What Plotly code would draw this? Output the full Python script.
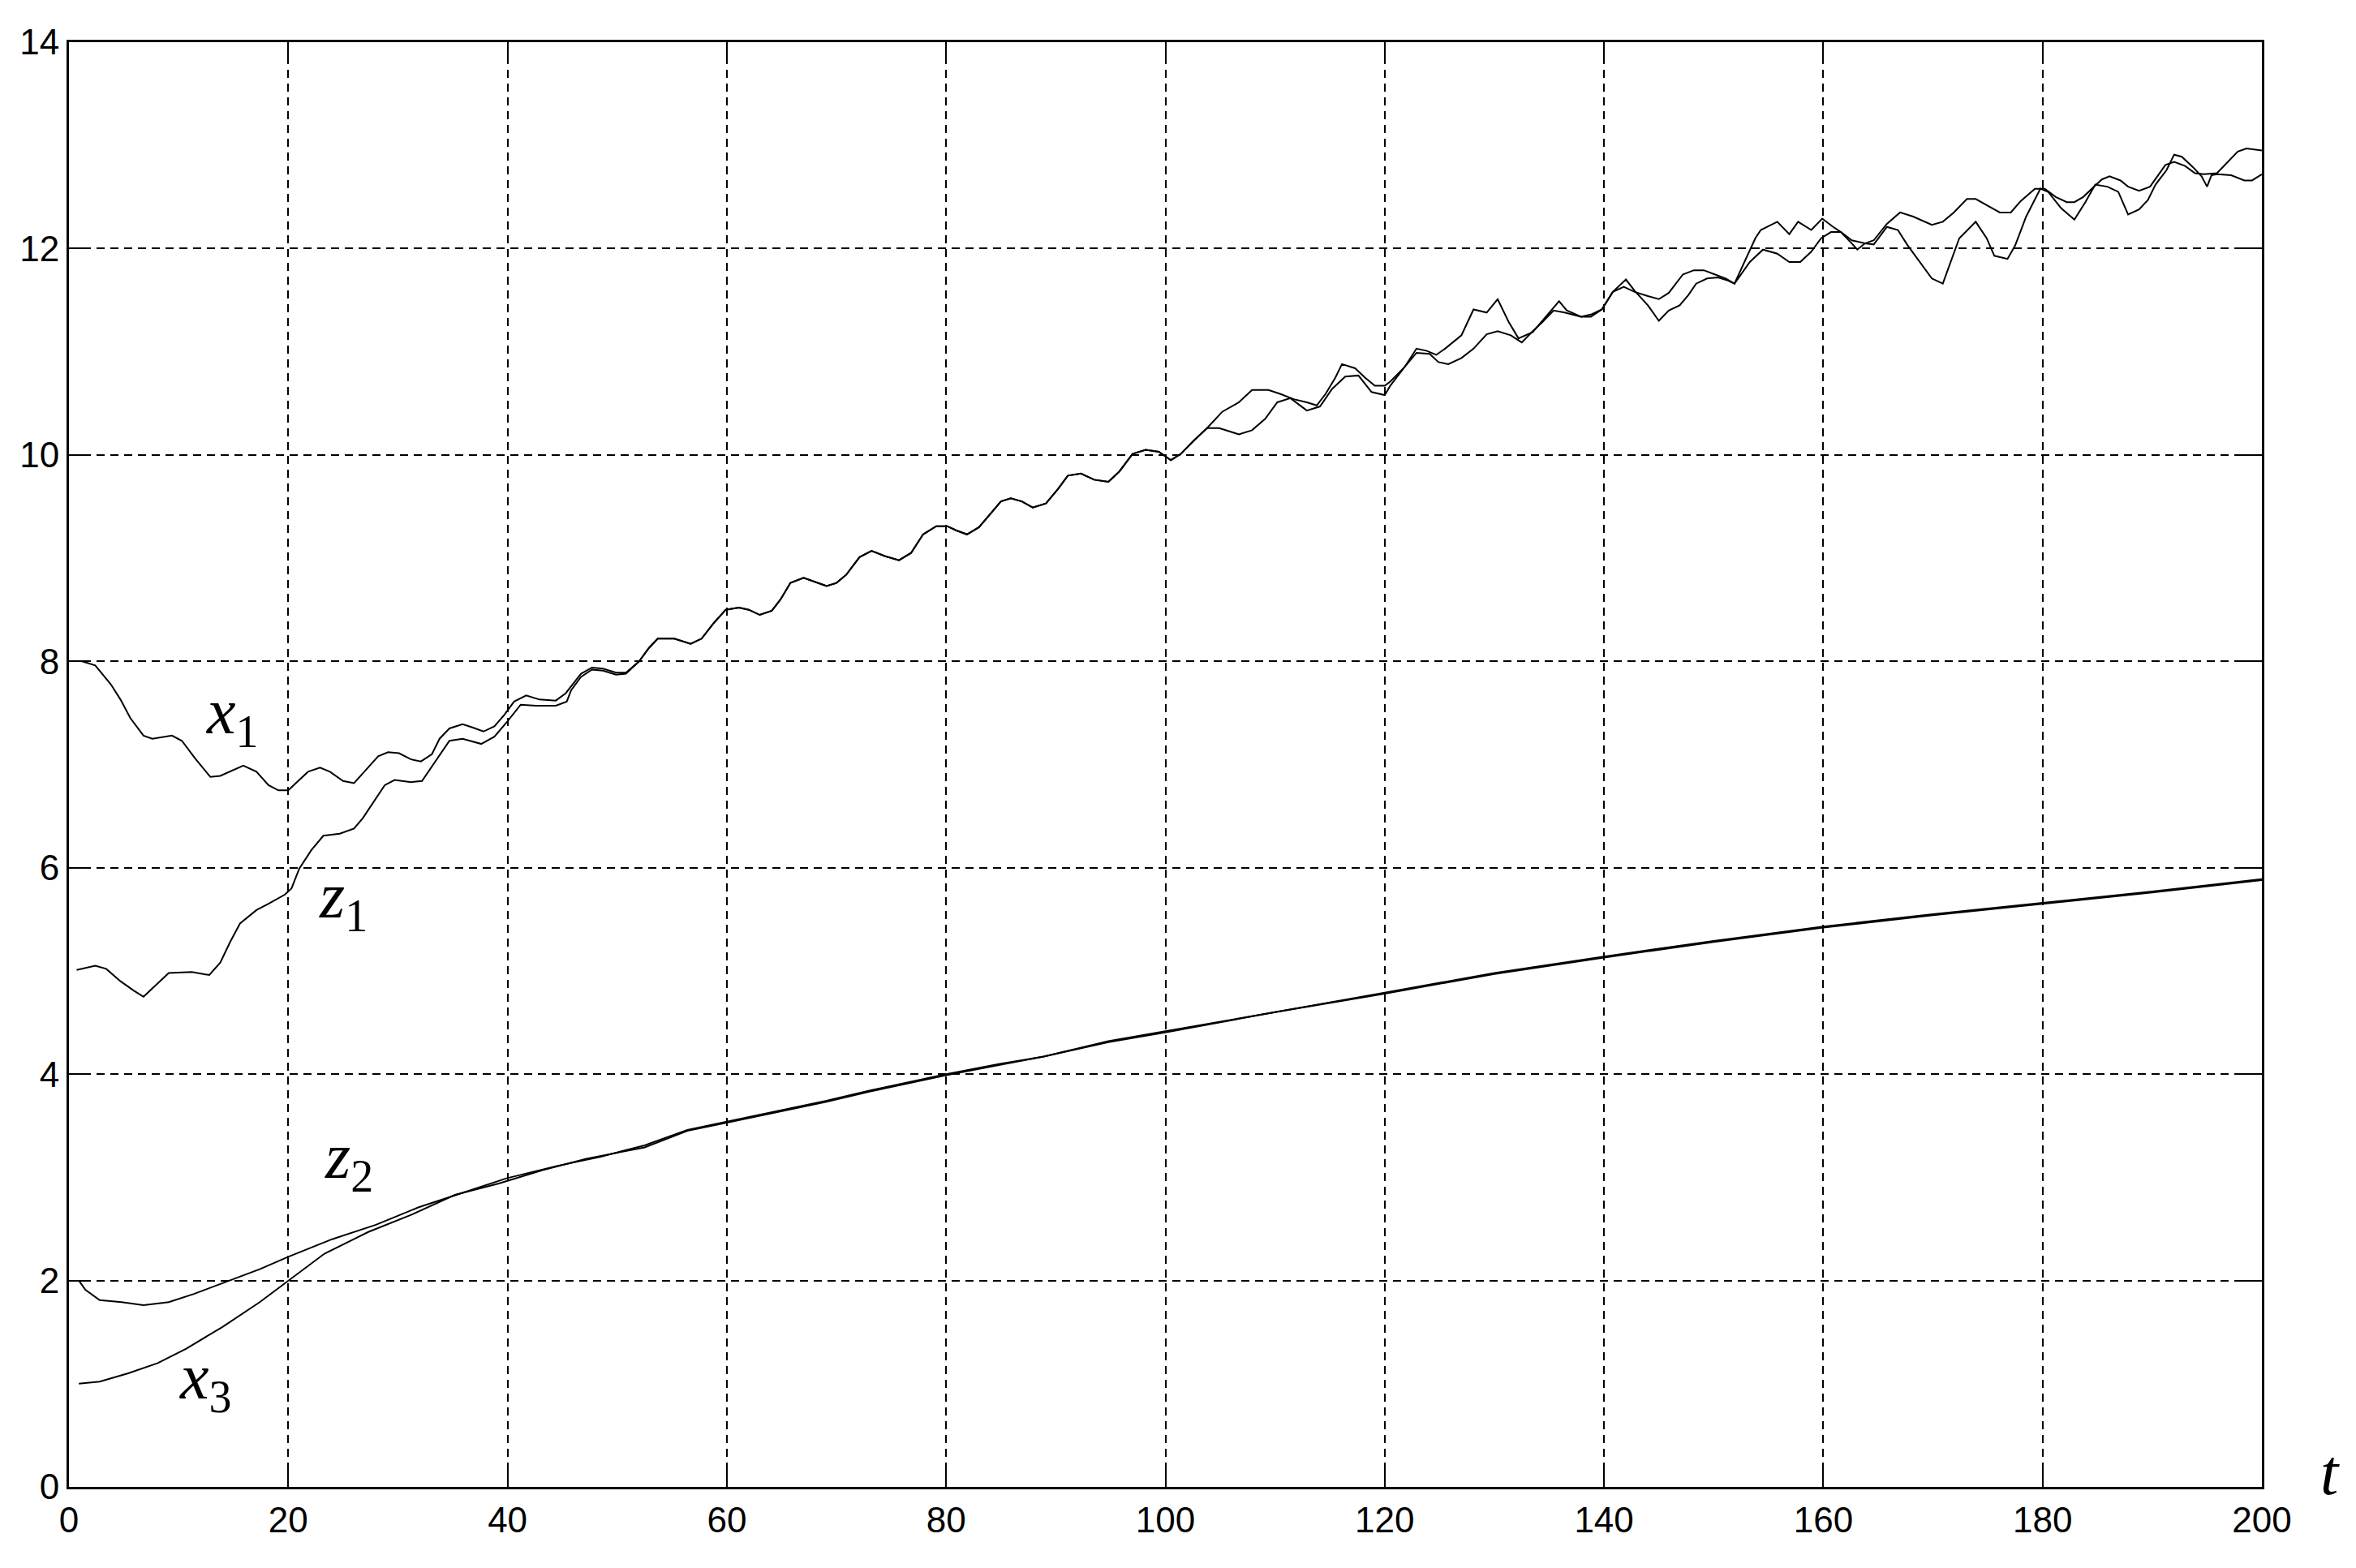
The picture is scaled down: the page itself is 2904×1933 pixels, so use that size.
import plotly.graph_objects as go

# upper pair (x1 true state, z1 estimate)
x1_t = [1.2, 2.4, 3.8, 4.7, 5.6, 6.8, 7.6, 9.4, 10.3, 11.5, 12.9, 13.8, 15.9, 17.1, 18.2, 19.1, 20.0,
        20.6, 21.8, 22.9, 23.8, 25.0, 26.0, 27.1, 28.2, 29.1, 30.1, 31.2, 32.1, 33.1, 33.8, 34.7, 35.9,
        36.8, 37.8, 38.8, 39.7, 40.6, 41.7, 42.9, 44.4, 45.3,
        45.8, 46.7, 47.7, 48.7, 49.9, 50.8, 52.0, 52.9, 53.7, 55.2, 56.7, 57.7, 58.8, 59.9, 61.1, 62.0,
        63.0, 64.1, 64.9, 65.8, 67.0, 68.1, 69.1, 70.0, 70.9, 72.1, 73.2, 74.4, 75.7, 76.8, 77.9, 79.1,
        80.1, 80.9, 81.9, 83.0, 83.8, 85.0, 85.9, 86.9, 87.9, 89.1, 90.2, 91.1, 92.3, 93.5, 94.8, 95.8,
        97.0, 98.2, 99.4, 100.0, 100.5, 101.4, 102.6, 103.8,
        104.9, 106.7, 107.9, 109.1, 110.2, 111.4, 112.9, 114.1, 115.2, 116.4, 117.6, 118.8, 120.0, 120.5,
        121.8, 122.9, 124.1, 124.9, 125.8, 127.0, 128.1, 129.3, 130.3, 131.5, 132.5, 133.5, 134.4, 135.4,
        136.4, 137.9, 138.8, 139.8, 140.8, 141.8, 142.8, 144.0, 145.0, 145.9, 147.2, 148.2, 149.1, 150.1,
        151.1, 151.9, 152.8, 153.3, 154.5, 155.8, 156.9, 157.9, 158.9, 159.8, 160.7, 161.6, 162.6, 163.8,
        164.6, 165.8, 167.0, 168.2, 169.9, 170.9, 171.9, 173.1, 173.9, 175.1, 176.1, 177.1, 178.0, 179.3,
        180.2, 181.2, 182.2, 182.9, 183.7, 184.7, 185.4, 186.1, 187.1, 187.8, 188.8, 189.8, 190.5, 191.2,
        192.0, 193.0, 193.9, 194.7, 195.9, 196.9, 197.8, 198.6, 200.0]
x1_v = [8.00, 7.96, 7.78, 7.63, 7.45, 7.28, 7.25, 7.28, 7.23, 7.06, 6.88, 6.89, 6.99, 6.93, 6.80, 6.75, 6.75,
        6.81, 6.93, 6.97, 6.93, 6.84, 6.82, 6.95, 7.08, 7.12, 7.11, 7.05, 7.03, 7.10, 7.25, 7.35, 7.39,
        7.36, 7.32, 7.37, 7.48, 7.61, 7.67, 7.63, 7.62, 7.69,
        7.76, 7.88, 7.94, 7.93, 7.89, 7.89, 8.00, 8.13, 8.22, 8.22, 8.17, 8.22, 8.37, 8.50, 8.52, 8.50,
        8.45, 8.49, 8.60, 8.76, 8.81, 8.77, 8.73, 8.76, 8.84, 9.01, 9.07, 9.02, 8.98, 9.05, 9.23, 9.31,
        9.31, 9.27, 9.23, 9.30, 9.40, 9.55, 9.58, 9.55, 9.49, 9.53, 9.67, 9.80, 9.82, 9.76, 9.74, 9.84,
        10.01, 10.05, 10.03, 9.99, 9.95, 10.01, 10.14, 10.26,
        10.26, 10.20, 10.24, 10.35, 10.51, 10.55, 10.43, 10.47, 10.64, 10.76, 10.77, 10.61, 10.58, 10.67,
        10.85, 10.99, 10.98, 10.90, 10.88, 10.94, 11.03, 11.17, 11.20, 11.16, 11.09, 11.20, 11.29, 11.40,
        11.38, 11.34, 11.34, 11.41, 11.58, 11.63, 11.58, 11.54, 11.51, 11.57, 11.75, 11.79, 11.79, 11.75,
        11.71, 11.66, 11.79, 11.87, 11.99, 11.95, 11.87, 11.87, 11.97, 12.10, 12.16, 12.16, 12.08, 12.05,
        12.08, 12.24, 12.35, 12.31, 12.23, 12.26, 12.35, 12.48, 12.48, 12.41, 12.35, 12.35, 12.46, 12.58,
        12.58, 12.50, 12.45, 12.45, 12.50, 12.60, 12.67, 12.70, 12.66, 12.60, 12.56, 12.60, 12.71, 12.81,
        12.84, 12.80, 12.73, 12.72, 12.73, 12.84, 12.94, 12.97, 12.95]

z1_t = [0.7, 2.4, 3.4, 4.7, 5.9, 6.8, 7.9, 9.1, 11.2, 12.8, 13.8, 14.7, 15.6, 17.1, 18.2, 19.7, 20.3,
        21.0, 22.1, 23.2, 24.7, 26.0, 26.8, 27.8, 28.8, 29.7, 31.2, 32.2, 32.9, 33.7, 34.7, 35.9, 37.6,
        38.8, 40.0, 41.2, 42.6, 44.4, 45.4,
        45.8, 46.7, 47.7, 48.7, 49.9, 50.8, 52.0, 52.9, 53.7, 55.2, 56.7, 57.7, 58.8, 59.9, 61.1, 62.0,
        63.0, 64.1, 64.9, 65.8, 67.0, 68.1, 69.1, 70.0, 70.9, 72.1, 73.2, 74.4, 75.7, 76.8, 77.9, 79.1,
        80.1, 80.9, 81.9, 83.0, 83.8, 85.0, 85.9, 86.9, 87.9, 89.1, 90.2, 91.1, 92.3, 93.5, 94.8, 95.8,
        97.0, 98.2, 99.4, 100.0, 100.5, 101.4, 102.6, 103.8,
        104.4, 105.2, 106.7, 107.9, 109.4, 110.5, 111.7, 112.9, 113.8, 114.6, 115.5, 116.1, 117.3, 118.2,
        119.1, 120.0, 120.5, 121.8, 122.9, 123.8, 124.7, 125.5, 127.0, 128.1, 129.3, 130.3, 131.3, 132.2,
        133.5, 134.9, 135.9, 136.6, 137.9, 138.8, 139.8, 140.8, 142.0, 142.8, 144.0, 145.0, 145.9, 146.9,
        147.7, 148.4, 149.4, 150.4, 151.3, 151.9, 152.8, 153.8, 154.3, 155.8, 156.9, 157.7, 158.9, 159.9,
        160.9, 161.6, 162.6, 163.1, 163.8,
        164.6, 165.8, 166.8, 167.7, 169.0, 169.9, 170.9, 171.7, 172.4, 173.9, 174.9, 175.6, 176.8, 177.5,
        178.5, 179.8, 180.5, 181.7, 182.9, 183.9, 184.8, 185.9, 186.9, 187.8, 188.8, 189.6, 190.3, 191.3,
        192.0, 192.7, 193.7, 194.5, 195.0, 195.4, 195.9, 197.2, 198.4, 199.1, 200.0]
z1_v = [5.01, 5.05, 5.02, 4.90, 4.81, 4.75, 4.86, 4.98, 4.99, 4.96, 5.08, 5.28, 5.46, 5.59, 5.65, 5.74, 5.80,
        5.99, 6.17, 6.31, 6.33, 6.38, 6.48, 6.64, 6.80, 6.85, 6.83, 6.84, 6.95, 7.08, 7.23, 7.25, 7.20,
        7.27, 7.42, 7.58, 7.57, 7.57, 7.61,
        7.72, 7.85, 7.92, 7.91, 7.87, 7.88, 8.00, 8.13, 8.22, 8.22, 8.17, 8.22, 8.37, 8.50, 8.52, 8.50,
        8.45, 8.49, 8.60, 8.76, 8.81, 8.77, 8.73, 8.76, 8.84, 9.01, 9.07, 9.02, 8.98, 9.05, 9.23, 9.31,
        9.31, 9.27, 9.23, 9.30, 9.40, 9.55, 9.58, 9.55, 9.49, 9.53, 9.67, 9.80, 9.82, 9.76, 9.74, 9.84,
        10.01, 10.05, 10.03, 9.99, 9.95, 10.01, 10.14, 10.26,
        10.33, 10.42, 10.51, 10.63, 10.63, 10.59, 10.54, 10.51, 10.48, 10.59, 10.75, 10.88, 10.84, 10.75,
        10.67, 10.67, 10.71, 10.85, 11.03, 11.01, 10.97, 11.03, 11.16, 11.41, 11.38, 11.51, 11.29, 11.13,
        11.19, 11.37, 11.49, 11.40, 11.34, 11.36, 11.41, 11.58, 11.70, 11.59, 11.45, 11.30, 11.40, 11.45,
        11.55, 11.66, 11.71, 11.72, 11.69, 11.66, 11.87, 12.10, 12.18, 12.26, 12.14, 12.26, 12.18, 12.29,
        12.21, 12.16, 12.05, 11.99, 12.05,
        12.04, 12.21, 12.18, 12.03, 11.84, 11.71, 11.66, 11.90, 12.10, 12.26, 12.10, 11.93, 11.90, 12.03,
        12.31, 12.58, 12.55, 12.39, 12.28, 12.45, 12.62, 12.60, 12.55, 12.33, 12.38, 12.47, 12.62, 12.76,
        12.91, 12.89, 12.79, 12.70, 12.60, 12.71, 12.72, 12.71, 12.66, 12.66, 12.72]

# lower pair (x3 true state, z2 estimate)
z2_t = [0.9, 1.5, 2.8, 4.8, 6.8, 9.1, 11.4, 14.7, 17.4, 20.0, 24.0, 28.0, 31.9, 35.9, 39.9, 44.5, 48.5,
        52.5, 56.4, 60.0, 64.4, 69.0, 73.0, 77.0, 80.0, 84.9, 88.9, 94.8, 100.3, 110.0, 120.0, 130.0,
        140.0, 150.0, 160.0, 170.0, 180.0, 190.0, 200.0]
z2_v = [2.00, 1.91, 1.81, 1.79, 1.76, 1.79, 1.87, 2.00, 2.11, 2.23, 2.40, 2.54, 2.71, 2.85, 2.99, 3.11, 3.20,
        3.31, 3.46, 3.54, 3.64, 3.74, 3.84, 3.93, 4.00, 4.10, 4.17, 4.32, 4.42, 4.60, 4.79, 4.98,
        5.14, 5.29, 5.43, 5.55, 5.66, 5.77, 5.89]

x3_t = [0.9, 2.8, 5.4, 8.1, 10.7, 14.0, 17.4, 20.0, 23.3, 27.3, 31.3, 35.2, 39.2, 43.2, 47.2, 52.5,
        56.4, 60.0, 64.4, 69.0, 73.0, 77.0, 80.0, 84.9, 88.9, 94.8, 100.3, 110.0, 120.0, 130.0,
        140.0, 150.0, 160.0, 170.0, 180.0, 190.0, 200.0]
x3_v = [1.00, 1.02, 1.10, 1.20, 1.34, 1.55, 1.79, 2.00, 2.26, 2.47, 2.64, 2.83, 2.94, 3.07, 3.18, 3.29,
        3.45, 3.53, 3.63, 3.73, 3.83, 3.92, 3.99, 4.09, 4.17, 4.31, 4.41, 4.60, 4.78, 4.97,
        5.13, 5.28, 5.42, 5.54, 5.65, 5.76, 5.88]

x_ticks = list(range(0, 201, 20))
y_ticks = list(range(0, 15, 2))

fig = go.Figure()
for t, v in [(x1_t, x1_v), (z1_t, z1_v), (z2_t, z2_v), (x3_t, x3_v)]:
    fig.add_trace(go.Scatter(x=t, y=v, mode='lines', line=dict(color='black', width=2),
                             showlegend=False, hoverinfo='skip'))

label_font = dict(family='Liberation Serif', size=80, color='black')
labels = [('<i>x</i><sub>1</sub>', 14.9, 7.47),
          ('<i>z</i><sub>1</sub>', 25.0, 5.68),
          ('<i>z</i><sub>2</sub>', 25.5, 3.16),
          ('<i>x</i><sub>3</sub>', 12.5, 1.02)]
for txt, xx, yy in labels:
    fig.add_annotation(x=xx, y=yy, text=txt, showarrow=False, font=label_font,
                       xanchor='center', yanchor='middle')
# axis name sits past the right end of the x axis
fig.add_annotation(xref='paper', yref='paper', x=1.031, y=0.01, text='<i>t</i>',
                   showarrow=False, font=label_font, xanchor='center', yanchor='middle')

axis_common = dict(showline=True, linecolor='black', linewidth=3, mirror='ticks',
                   ticks='inside', ticklen=27, tickwidth=2, tickcolor='black',
                   showgrid=True, gridcolor='black', gridwidth=2, griddash='10px,7px',
                   zeroline=False, automargin=False,
                   tickfont=dict(family='Liberation Sans', size=44, color='black'))

fig.update_xaxes(range=[0, 200], tickvals=x_ticks, **axis_common)
fig.update_yaxes(range=[0, 14], tickvals=y_ticks, **axis_common)

# the page body adds 8px around the figure, so the figure is 16px smaller than the window
fig.update_layout(
    width=2888, height=1917,
    margin=dict(l=77, r=108, t=44, b=92, autoexpand=False),
    plot_bgcolor='white', paper_bgcolor='white',
)

fig.write_html("out.html")
